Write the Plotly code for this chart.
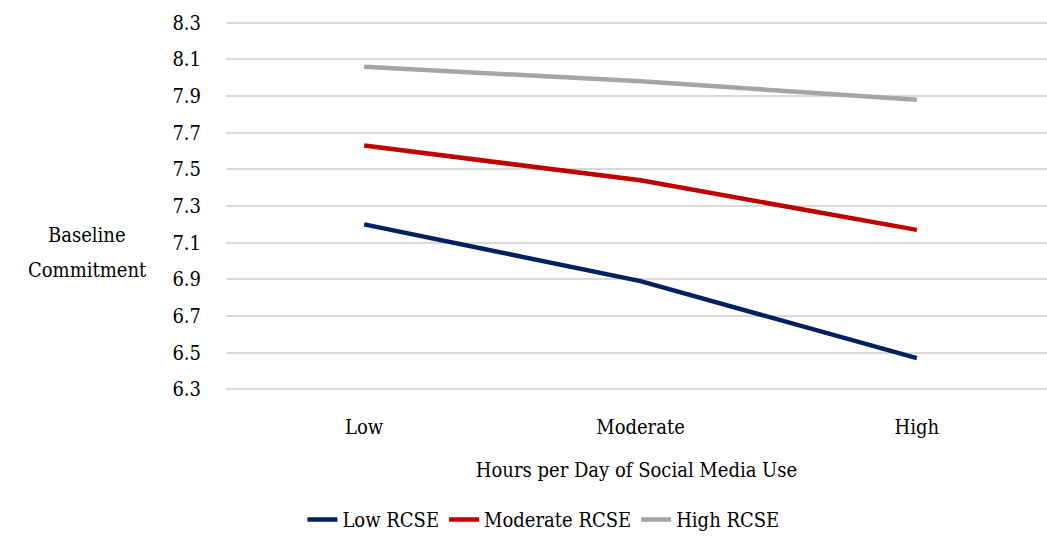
import plotly.graph_objects as go

categories = ["Low", "Moderate", "High"]
low_rcse = [7.20, 6.89, 6.47]
moderate_rcse = [7.63, 7.44, 7.17]
high_rcse = [8.06, 7.98, 7.88]
series_names = ["Low RCSE", "Moderate RCSE", "High RCSE"]
colors = ["#002060", "#C00000", "#A5A5A5"]

FONT = "DejaVu Serif Condensed"
FS = 20

fig = go.Figure()
for name, vals, col in zip(series_names, [low_rcse, moderate_rcse, high_rcse], colors):
    fig.add_trace(go.Scatter(
        x=[0, 1, 2], y=vals, mode="lines", name=name,
        line=dict(color=col, width=4.5),
    ))

fig.update_layout(
    width=1047, height=539,
    margin=dict(l=226, r=0, t=21, b=148),
    paper_bgcolor="white", plot_bgcolor="white",
    font=dict(family=FONT, size=FS, color="black"),
    showlegend=True,
    legend=dict(
        orientation="h", xref="container", yref="container",
        x=0.519, xanchor="center", y=0.0, yanchor="bottom",
        font=dict(family=FONT, size=FS), itemwidth=30, tracegroupgap=0,
        bgcolor="rgba(0,0,0,0)",
    ),
    xaxis=dict(
        tickmode="array", tickvals=[0, 1, 2], ticktext=categories,
        range=[-0.5, 2.471], showgrid=False, zeroline=False, showline=False,
        ticks="", ticklabelstandoff=22, tickfont=dict(family=FONT, size=FS),
        title=dict(text="Hours per Day of Social Media Use", standoff=24,
                   font=dict(family=FONT, size=FS)),
    ),
    yaxis=dict(
        range=[6.291, 8.309], tick0=6.3, dtick=0.2, tickformat=".1f",
        showgrid=True, gridcolor="#D9D9D9", gridwidth=1.5,
        zeroline=False, showline=False, ticks="", ticklabelstandoff=24,
        tickfont=dict(family=FONT, size=FS),
    ),
    annotations=[
        dict(text="Baseline", xref="paper", yref="paper",
             x=-0.1693, y=0.4216, xanchor="center", yanchor="middle",
             showarrow=False, font=dict(family=FONT, size=FS)),
        dict(text="Commitment", xref="paper", yref="paper",
             x=-0.1693, y=0.327, xanchor="center", yanchor="middle",
             showarrow=False, font=dict(family=FONT, size=FS)),
    ],
)

fig.write_html("out.html")
